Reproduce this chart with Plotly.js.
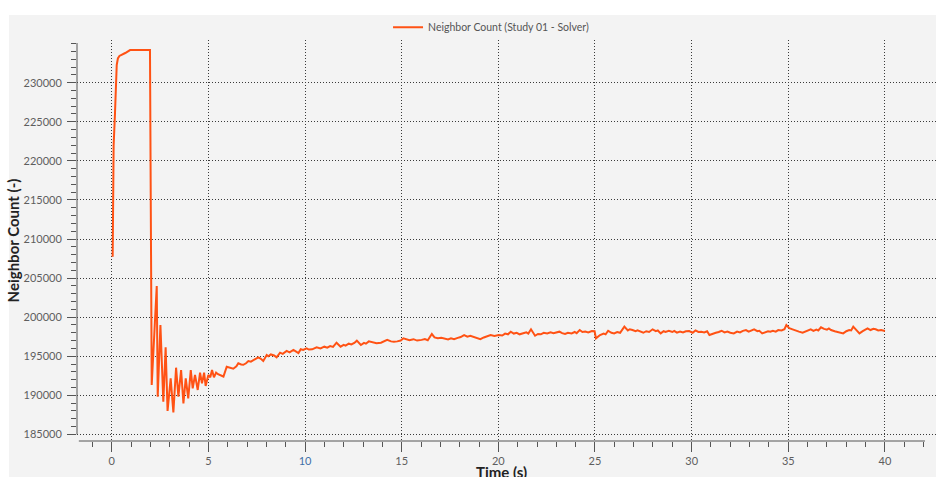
<!DOCTYPE html>
<html>
<head>
<meta charset="utf-8">
<script src="https://cdn.plot.ly/plotly-3.0.1.min.js"></script>
<style>
  html, body { margin: 0; padding: 0; background: #ffffff; }
  #chart { width: 936px; height: 477px; }
</style>
</head>
<body>
<div id="chart"></div>
<script>
// ---- Data ----
const seriesName = "Neighbor Count (Study 01 - Solver)";
const xTitle = "Time (s)";
const yTitle = "Neighbor Count (-)";

const timeS = [
  0.05, 0.10, 0.17, 0.22, 0.26, 0.32, 0.40, 0.70, 0.95, 1.50, 1.98, 2.07,
  2.33, 2.38, 2.52, 2.67, 2.79, 2.89, 3.05, 3.19, 3.33, 3.45, 3.59, 3.71,
  3.83, 3.96, 4.09, 4.19, 4.31, 4.45, 4.57, 4.67, 4.78, 4.86, 5.00, 5.10,
  5.19, 5.29, 5.40, 5.50, 5.60, 5.78, 5.95, 6.10, 6.29, 6.45, 6.55, 6.70,
  6.81, 6.95, 7.07, 7.20, 7.33, 7.45, 7.58, 7.70, 7.84, 8.02, 8.10, 8.23,
  8.40, 8.53, 8.71, 8.85, 9.05, 9.20, 9.40, 9.50, 9.66, 9.78, 9.90, 10.08,
  10.20, 10.37, 10.50, 10.60, 10.80, 11.00, 11.15, 11.30, 11.45, 11.63, 11.84, 12.00,
  12.10, 12.26, 12.40, 12.55, 12.68, 12.89, 13.05, 13.15, 13.30, 13.50, 13.70, 13.93,
  14.10, 14.25, 14.45, 14.60, 14.77, 14.95, 15.09, 15.25, 15.40, 15.61, 15.80, 16.03,
  16.20, 16.35, 16.56, 16.70, 16.87, 17.05, 17.20, 17.40, 17.55, 17.71, 17.90, 18.05,
  18.23, 18.40, 18.55, 18.76, 18.90, 19.07, 19.25, 19.40, 19.60, 19.80, 20.02, 20.20,
  20.35, 20.50, 20.64, 20.80, 20.95, 21.10, 21.27, 21.45, 21.55, 21.69, 21.90, 22.05,
  22.20, 22.35, 22.53, 22.70, 22.85, 23.00, 23.16, 23.30, 23.45, 23.60, 23.79, 23.95,
  24.05, 24.21, 24.35, 24.50, 24.65, 24.84, 24.98, 25.05, 25.26, 25.45, 25.55, 25.68,
  25.85, 25.99, 26.15, 26.30, 26.52, 26.70, 26.80, 26.94, 27.10, 27.20, 27.35, 27.50,
  27.65, 27.80, 27.98, 28.15, 28.25, 28.40, 28.55, 28.65, 28.82, 29.00, 29.10, 29.24,
  29.40, 29.55, 29.70, 29.87, 30.05, 30.20, 30.35, 30.50, 30.65, 30.80, 30.92, 31.10,
  31.25, 31.40, 31.55, 31.70, 31.85, 32.00, 32.18, 32.35, 32.50, 32.65, 32.81, 32.95,
  33.10, 33.23, 33.40, 33.50, 33.65, 33.80, 33.95, 34.07, 34.20, 34.35, 34.48, 34.65,
  34.80, 34.90, 35.05, 35.22, 35.40, 35.55, 35.74, 35.90, 36.05, 36.16, 36.30, 36.45,
  36.55, 36.69, 36.85, 37.00, 37.10, 37.21, 37.40, 37.55, 37.70, 37.84, 38.00, 38.15,
  38.25, 38.36, 38.50, 38.68, 38.85, 39.00, 39.10, 39.25, 39.40, 39.52, 39.65, 39.80,
  40.00
];

const neighborCount = [
  207730, 222000, 226080, 230000, 232270, 233100, 233420, 233800, 234180, 234180, 234180, 191310,
  203980, 189820, 199000, 189180, 196140, 187990, 192170, 187820, 193530, 189820, 193230, 188970,
  192170, 189610, 193230, 190890, 192600, 190680, 192890, 191530, 192890, 191190, 192600, 192300,
  193230, 192300, 192900, 192700, 192600, 192400, 193660, 193500, 193400, 193700, 194090, 193950,
  193900, 194100, 194380, 194300, 194500, 194600, 194850, 194700, 194400, 195150, 195000, 195230,
  195100, 194850, 195450, 195300, 195680, 195500, 195800, 195650, 195400, 195890, 195800, 196010,
  195850, 195880, 196050, 196140, 196000, 196220, 196100, 196300, 196200, 196730, 196220, 196450,
  196350, 196600, 196500, 196700, 196990, 196430, 196700, 196600, 196900, 196800, 196650, 196730,
  196950, 197090, 196900, 196850, 196900, 197000, 197290, 197150, 197050, 197180, 197000, 197090,
  197200, 197050, 197840, 197400, 197290, 197350, 197250, 197150, 197300, 197180, 197350, 197450,
  197710, 197500, 197600, 197410, 197350, 197180, 197400, 197500, 197710, 197600, 197710, 197650,
  197900, 197800, 198140, 197900, 198000, 197800, 197920, 198050, 197900, 198440, 197620, 197850,
  197800, 198000, 197920, 198050, 197950, 198000, 198140, 197950, 197850, 198000, 197920, 198100,
  197950, 198350, 198100, 198150, 198050, 198220, 198200, 197290, 197710, 197900, 197800, 198260,
  198000, 197920, 198100, 198000, 198780, 198300, 198450, 198350, 198200, 198300, 198140, 198000,
  198200, 198100, 198440, 198200, 198300, 197920, 198200, 198100, 198260, 198100, 198250, 198010,
  198150, 198050, 198200, 198220, 198000, 198300, 198100, 198140, 198050, 198200, 197710, 197900,
  198000, 198100, 198260, 198050, 198150, 198000, 197920, 198150, 198050, 198250, 198350, 198150,
  198300, 198440, 198200, 198250, 197920, 198100, 198200, 198140, 198250, 198150, 198350, 198300,
  198450, 198990, 198600, 198440, 198250, 198150, 198010, 198200, 198300, 198440, 198250, 198400,
  198300, 198700, 198500, 198400, 198550, 198350, 198200, 198100, 198000, 197920, 198200, 198350,
  198300, 198780, 198400, 197920, 198200, 198400, 198560, 198350, 198500, 198440, 198300, 198350,
  198220
];

const xTickVals = [0, 5, 10, 15, 20, 25, 30, 35, 40];
const xTickText = ["0", "5", "<span style=\"color:#3f70a8\">10</span>", "15", "20", "25", "30", "35", "40"];
const yTickVals = [185000, 190000, 195000, 200000, 205000, 210000, 215000, 220000, 225000, 230000];

// ---- Styling ----
const lineColor = "#ff5214";
const tickFont = { family: "Lato, 'Noto Sans', sans-serif", size: 11, color: "#5e5e5e" };
const titleFont = { family: "Lato, 'Noto Sans', sans-serif", size: 15, color: "#222222", weight: "bold" };
const gridDash = "1px,2px";

const gradientSvg = "data:image/svg+xml;utf8," + encodeURIComponent(
  '<svg xmlns="http://www.w3.org/2000/svg" width="100" height="100" preserveAspectRatio="none">' +
  '<defs><linearGradient id="g" x1="0" y1="0" x2="0" y2="1">' +
  '<stop offset="0" stop-color="#f3f3f3"/><stop offset="1" stop-color="#ffffff"/>' +
  '</linearGradient></defs><rect width="100" height="100" fill="url(#g)"/></svg>');

const trace = {
  type: "scatter",
  mode: "lines",
  name: seriesName,
  x: timeS,
  y: neighborCount,
  line: { color: lineColor, width: 2 },
  hoverinfo: "x+y"
};

const layout = {
  width: 936,
  height: 477,
  margin: { l: 77, r: 0, t: 40, b: 36, pad: 0 },
  paper_bgcolor: "#ffffff",
  plot_bgcolor: "rgba(0,0,0,0)",
  showlegend: true,
  legend: {
    orientation: "h",
    x: 0.482, xanchor: "center",
    y: 1.032, yanchor: "middle",
    bgcolor: "rgba(0,0,0,0)",
    font: { family: "Lato, 'Noto Sans', sans-serif", size: 10.5, color: "#555555" }
  },
  xaxis: {
    range: [-1.795, 42.64],
    tickmode: "array",
    tickvals: xTickVals,
    ticktext: xTickText,
    ticks: "outside",
    ticklen: 10,
    tickwidth: 1,
    tickcolor: "#555555",
    tickfont: tickFont,
    showline: false,
    zeroline: false,
    showgrid: true,
    gridcolor: "#3a3a3a",
    griddash: gridDash,
    gridwidth: 1,
    minor: { tickmode: "linear", tick0: 0, dtick: 1, ticks: "outside", ticklen: 5, tickwidth: 1, tickcolor: "#555555", showgrid: false },
    automargin: false,
    fixedrange: true
  },
  yaxis: {
    range: [184150, 235465],
    tickmode: "array",
    tickvals: yTickVals,
    tickformat: "d",
    ticks: "outside",
    ticklen: 9,
    tickwidth: 1,
    tickcolor: "#555555",
    tickfont: tickFont,
    ticklabelstandoff: 3,
    showline: false,
    zeroline: false,
    showgrid: true,
    gridcolor: "#3a3a3a",
    griddash: gridDash,
    gridwidth: 1,
    minor: { tickmode: "linear", tick0: 185000, dtick: 1000, ticks: "outside", ticklen: 5, tickwidth: 1, tickcolor: "#555555", showgrid: false },
    title: { text: yTitle, font: titleFont, standoff: 0 },
    automargin: false,
    fixedrange: true
  },
  annotations: [
    // x-axis title, sitting low near the bottom edge as in the reference
    { text: xTitle, xref: "paper", yref: "paper", x: 0.494, y: -0.049, xanchor: "center", yanchor: "top",
      showarrow: false, font: titleFont }
  ],
  shapes: [
    // grey panel background (white strip top/left)
    { type: "rect", xref: "paper", yref: "paper", x0: -0.0792, x1: 1.0, y0: -0.0898, y1: 1.0623,
      fillcolor: "#f3f3f3", line: { width: 0 }, layer: "below" },
    // x axis line
    { type: "line", xref: "x", yref: "paper", x0: -1.7, x1: 42.07, y0: 0, y1: 0,
      line: { color: "#555555", width: 1 }, layer: "above" },
    // y axis line
    { type: "line", xref: "paper", yref: "y", x0: 0, x1: 0, y0: 185000, y1: 235080,
      line: { color: "#555555", width: 1 }, layer: "above" }
  ],
  images: [
    { source: gradientSvg, xref: "paper", yref: "paper", x: 0, y: 1, sizex: 1, sizey: 1,
      sizing: "stretch", xanchor: "left", yanchor: "top", layer: "below" }
  ]
};

Plotly.newPlot("chart", [trace], layout, { displayModeBar: false, staticPlot: true });
</script>
</body>
</html>
